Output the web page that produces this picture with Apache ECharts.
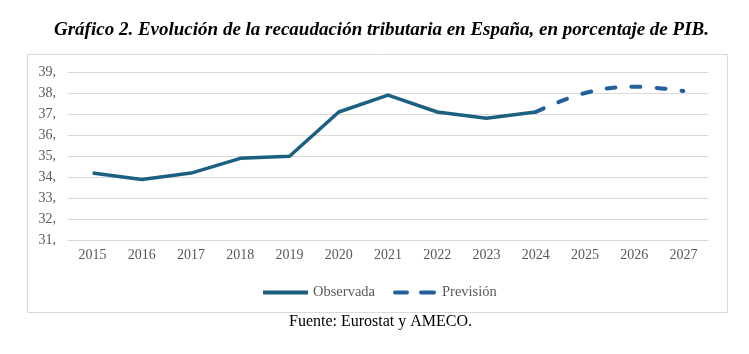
<!DOCTYPE html>
<html>
<head>
<meta charset="utf-8">
<script src="https://cdn.jsdelivr.net/npm/echarts@6/dist/echarts.min.js"></script>
<style>
  html, body { margin: 0; padding: 0; background: #fff; }
  #chart { width: 749px; height: 354px; }
</style>
</head>
<body>
<div id="chart"></div>
<script>
const years = ['2015', '2016', '2017', '2018', '2019', '2020', '2021', '2022', '2023', '2024', '2025', '2026', '2027'];
const observada = [34.2, 33.9, 34.2, 34.9, 35.0, 37.1, 37.9, 37.1, 36.8, 37.1, null, null, null];
const prevision = [null, null, null, null, null, null, null, null, null, 37.1, 38.0, 38.3, 38.1];

const serif = '"Liberation Serif", "DejaVu Serif", serif';
const chart = echarts.init(document.getElementById('chart'));

chart.setOption({
    animation: false,
    title: {
        text: 'Gráfico 2. Evolución de la recaudación tributaria en España, en porcentaje de PIB.',
        left: 49,
        top: 16,
        textStyle: {
            fontFamily: serif,
            fontStyle: 'italic',
            fontWeight: 'bold',
            fontSize: 19,
            color: '#000'
        }
    },
    graphic: [
        {
            type: 'rect',
            shape: { x: 27.5, y: 54.5, width: 700, height: 258 },
            style: { fill: 'none', stroke: '#d9d9d9', lineWidth: 1 },
            z: -1
        },
        {
            type: 'text',
            left: 289,
            top: 314,
            style: {
                text: 'Fuente: Eurostat y AMECO.',
                font: '16px ' + serif,
                fill: '#000'
            }
        }
    ],
    legend: {
        top: 280,
        left: 258,
        itemWidth: 45,
        itemHeight: 4,
        itemGap: 18,
        textStyle: { fontFamily: serif, fontSize: 14.5, color: '#595959' },
        data: [
            { name: 'Observada', icon: 'path://M0,0 L45,0 L45,4 L0,4 Z' },
            { name: 'Previsión', icon: 'path://M2,0 L14,0 A2,2 0 0 1 14,4 L2,4 A2,2 0 0 1 2,0 Z M28,0 L41,0 A2,2 0 0 1 41,4 L28,4 A2,2 0 0 1 28,0 Z' }
        ]
    },
    grid: { left: 68, right: 41, top: 72, bottom: 113.5 },
    xAxis: {
        type: 'category',
        data: years,
        boundaryGap: true,
        axisLine: { show: true, lineStyle: { color: '#d9d9d9' } },
        axisTick: { show: false },
        axisLabel: { fontFamily: serif, fontSize: 14, color: '#595959', margin: 8 }
    },
    yAxis: {
        type: 'value',
        min: 31,
        max: 39,
        interval: 1,
        axisLine: { show: false },
        axisTick: { show: false },
        axisLabel: {
            fontFamily: serif, fontSize: 14, color: '#595959', margin: 12,
            formatter: v => v + ','
        },
        splitLine: { lineStyle: { color: '#d9d9d9', width: 1 } }
    },
    series: [
        {
            name: 'Observada',
            type: 'line',
            data: observada,
            symbol: 'none',
            itemStyle: { color: '#1b6080' },
            lineStyle: { color: '#1b6080', width: 3.5 }
        },
        {
            name: 'Previsión',
            type: 'line',
            data: prevision,
            smooth: 0.4,
            symbol: 'none',
            itemStyle: { color: '#21609b' },
            lineStyle: { color: '#21609b', width: 4, type: [9, 16], cap: 'round' }
        }
    ]
});
</script>
</body>
</html>
